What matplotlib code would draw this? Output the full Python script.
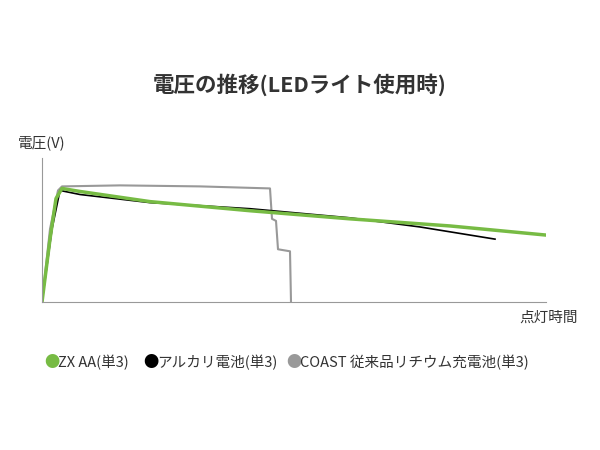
import matplotlib.pyplot as plt

plt.rcParams['font.family'] = ['Noto Sans CJK JP', 'DejaVu Sans']

# values (arbitrary units)
zx_t = [0, 8, 14, 20, 38, 108, 208, 308, 408, 504]
zx_v = [0, 62, 102, 112, 109, 99, 90, 82, 75, 66]
alk_t = [0, 10, 18, 38, 108, 208, 308, 378, 453]
alk_v = [0, 72, 110, 106, 98, 92, 83, 74, 62]
coast_t = [0, 8, 16, 20, 78, 158, 228, 230, 234, 236, 248, 249]
coast_v = [0, 72, 110, 114, 115, 114, 112, 82, 80, 52, 50, 0]

fig = plt.figure(figsize=(6, 4.5), dpi=100)
ax = fig.add_axes([42/600, 148/450, 504/600, 144/450])
ax.plot(coast_t, coast_v, color='#999999', lw=1.5, label='COAST 従来品リチウム充電池(単3)')
ax.plot(alk_t, alk_v, color='black', lw=1.2, label='アルカリ電池(単3)')
ax.plot(zx_t, zx_v, color='#77bb44', lw=2.5, label='ZX AA(単3)')
ax.set_xlim(0, 504)
ax.set_ylim(0, 142)
ax.set_xticks([])
ax.set_yticks([])
for s in ['top', 'right']:
    ax.spines[s].set_visible(False)
for s in ['left', 'bottom']:
    ax.spines[s].set_color('#999999')

fig.text(0.5, 1 - 85/450, '電圧の推移(LEDライト使用時)', ha='center', va='center',
         fontsize=15.5, fontweight='bold', color='#333333')
fig.text(18/600, 1 - 143/450, '電圧(V)', ha='left', va='center', fontsize=10.5, color='#333333')
fig.text(578/600, 1 - 318/450, '点灯時間', ha='right', va='center', fontsize=10.5, color='#333333')

items = [('ZX AA(単3)', '#77bb44', 44), ('アルカリ電池(単3)', 'black', 143),
         ('COAST 従来品リチウム充電池(単3)', '#999999', 286)]
for lab, c, px in items:
    fig.text(px/600, 1 - 363/450, '●', color=c, ha='left', va='center', fontsize=11)
    fig.text((px + 14)/600, 1 - 363/450, lab, color='#333333', ha='left', va='center', fontsize=10.5)

fig.savefig('out.png', dpi=100)
